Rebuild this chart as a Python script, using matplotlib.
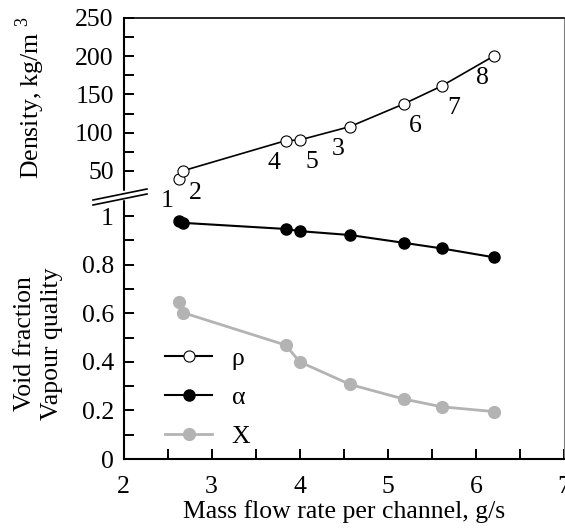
import matplotlib
matplotlib.use("Agg")
import matplotlib.pyplot as plt
from matplotlib.lines import Line2D
from matplotlib.ticker import MultipleLocator, FixedLocator, FuncFormatter

plt.rcParams['font.family'] = ['Liberation Serif', 'DejaVu Serif']
plt.rcParams['mathtext.fontset'] = 'custom'
plt.rcParams['mathtext.rm'] = 'Liberation Serif'

# ---- data ----
flow = [2.63, 2.68, 3.84, 4.00, 4.57, 5.18, 5.61, 6.21]
density = [39.5, 50.4, 89.6, 90.5, 108.0, 137.6, 161.0, 200.7]
void_fraction = [0.981, 0.972, 0.947, 0.938, 0.922, 0.890, 0.867, 0.830]
quality = [0.645, 0.602, 0.469, 0.400, 0.307, 0.247, 0.215, 0.195]
point_labels = ['1', '2', '4', '5', '3', '6', '7', '8']
label_side = [-1, 1, -1, 1, -1, 1, 1, -1]

x_ticks = [2, 3, 4, 5, 6, 7]
dens_ticks = [50, 100, 150, 200, 250]
frac_ticks = [0, 0.2, 0.4, 0.6, 0.8, 1.0]

GRAY = '#b3b3b3'
FS = 18.5

W, H = 565, 530
fig = plt.figure(figsize=(W / 100, H / 100), dpi=100)

left_px, right_px = 123.5, 564
top_px, break_px, bottom_px = 18, 193, 459
ax_top = fig.add_axes([left_px / W, (H - break_px) / H, (right_px - left_px) / W, (break_px - top_px) / H])
ax_bot = fig.add_axes([left_px / W, (H - bottom_px) / H, (right_px - left_px) / W, (bottom_px - break_px) / H])

for ax in (ax_top, ax_bot):
    ax.set_xlim(2, 7)
    ax.patch.set_alpha(0)
    ax.spines['left'].set_linewidth(1.5)
    ax.spines['right'].set_linewidth(0.8)
    ax.spines['right'].set_color('#808080')
    ax.tick_params(axis='both', which='both', direction='in', length=7.5, width=1.4,
                   labelsize=FS, right=False, top=False)
    ax.tick_params(axis='y', pad=7)

# top: density
ax_top.set_ylim(21.2, 250)
ax_top.spines['bottom'].set_visible(False)
ax_top.spines['top'].set_linewidth(1.2)
ax_top.yaxis.set_major_locator(FixedLocator(dens_ticks))
ax_top.yaxis.set_minor_locator(FixedLocator([75, 125, 175, 225]))
ax_top.tick_params(axis='x', which='both', bottom=False, labelbottom=False)
ax_top.plot(flow, density, color='black', lw=1.2, marker='o', ms=8,
            mfc='white', mec='black', mew=0.8, clip_on=False, zorder=3)
for xv, yv, lab, s in zip(flow, density, point_labels, label_side):
    ax_top.annotate(lab, (xv, yv), xytext=(12 * s, -22), textcoords='offset pixels',
                    ha='center', va='center', fontsize=FS, annotation_clip=False)

# bottom: fractions
ax_bot.set_ylim(0, 1.095)
ax_bot.spines['top'].set_visible(False)
ax_bot.spines['bottom'].set_linewidth(1.5)
ax_bot.yaxis.set_major_locator(FixedLocator(frac_ticks))
ax_bot.yaxis.set_minor_locator(MultipleLocator(0.1))
ax_bot.xaxis.set_major_locator(FixedLocator(x_ticks))
ax_bot.xaxis.set_minor_locator(MultipleLocator(0.5))
ax_bot.tick_params(axis='x', pad=12)
ax_bot.yaxis.set_major_formatter(FuncFormatter(lambda v, p: ('%g' % round(v, 2))))

ax_bot.plot(flow, void_fraction, color='black', lw=1.5, marker='o', ms=8,
            mfc='black', mec='black', clip_on=False, zorder=3)
ax_bot.plot(flow, quality, color=GRAY, lw=2.0, marker='o', ms=8.5,
            mfc=GRAY, mec=GRAY, clip_on=False, zorder=2)

handles = [
    Line2D([], [], color='black', lw=1.5, marker='o', ms=8, mfc='white', mec='black', mew=0.8),
    Line2D([], [], color='black', lw=1.5, marker='o', ms=8, mfc='black', mec='black'),
    Line2D([], [], color=GRAY, lw=2.0, marker='o', ms=8.5, mfc=GRAY, mec=GRAY),
]
ax_bot.legend(handles, ['ρ', 'α', 'X'], loc='upper left', bbox_to_anchor=(0.094, 0.42),
              frameon=False, fontsize=FS, handlelength=1.85, handletextpad=0.75,
              labelspacing=0.62, borderpad=0, borderaxespad=0, numpoints=1)

ax_bot.set_xlabel('Mass flow rate per channel, g/s', fontsize=FS, labelpad=2)

# axis titles
fig.text(30 / W, 1 - 98 / H, 'Density, kg/m $^3$', rotation=90, ha='center', va='center', fontsize=FS)
fig.text(25 / W, 1 - 344 / H, 'Void fraction', rotation=90, ha='center', va='center', fontsize=FS)
fig.text(52 / W, 1 - 344 / H, 'Vapour quality', rotation=90, ha='center', va='center', fontsize=FS)

# break marks
fig.add_artist(Line2D([left_px / W, left_px / W], [1 - 191.5 / H, 1 - 198 / H],
                      color='white', lw=2.5, transform=fig.transFigure))
for dy in (0, 5):
    fig.add_artist(Line2D([93 / W, 147 / W], [1 - (200 + dy) / H, 1 - (189 + dy) / H],
                          color='black', lw=1.2, transform=fig.transFigure))

fig.savefig('out.png', dpi=100)
